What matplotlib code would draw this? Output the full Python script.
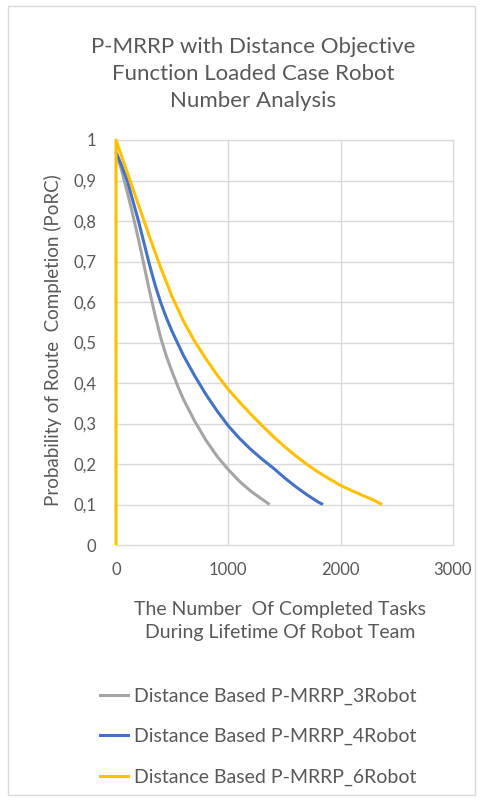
import matplotlib
matplotlib.use("Agg")
import matplotlib.pyplot as plt
from matplotlib.patches import Rectangle
from matplotlib.lines import Line2D
from matplotlib.ticker import FuncFormatter

plt.rcParams['font.family'] = ['Lato', 'DejaVu Sans']

title = "P-MRRP with Distance Objective\nFunction Loaded Case Robot\nNumber Analysis"
xlabel = "The Number  Of Completed Tasks\nDuring Lifetime Of Robot Team"
ylabel = "Probability of Route  Completion (PoRC)"

names = ["Distance Based P-MRRP_3Robot",
         "Distance Based P-MRRP_4Robot",
         "Distance Based P-MRRP_6Robot"]
colors = ["#A5A5A5", "#4472C4", "#FFC000"]

x3 = [0, 50, 100, 150, 200, 250, 300, 350, 400, 450, 500, 550, 600, 700, 800,
      900, 1000, 1100, 1200, 1300, 1368]
y3 = [0.97, 0.925, 0.872, 0.815, 0.755, 0.69, 0.625, 0.565, 0.51, 0.465, 0.427,
      0.392, 0.36, 0.306, 0.259, 0.219, 0.186, 0.157, 0.133, 0.113, 0.1]

x4 = [0, 50, 100, 150, 200, 250, 300, 350, 400, 450, 500, 600, 700, 800, 900,
      1000, 1100, 1200, 1300, 1400, 1500, 1600, 1700, 1800, 1843]
y4 = [0.97, 0.937, 0.9, 0.85, 0.8, 0.745, 0.69, 0.64, 0.597, 0.56, 0.527, 0.468,
      0.418, 0.372, 0.331, 0.294, 0.263, 0.236, 0.212, 0.19, 0.166, 0.144,
      0.124, 0.106, 0.1]

x6 = [0, 0, 100, 200, 300, 400, 500, 600, 700, 800, 900, 1000, 1100, 1200,
      1300, 1400, 1500, 1600, 1700, 1800, 1900, 2000, 2100, 2200, 2300, 2369]
y6 = [0, 1.0, 0.92, 0.84, 0.76, 0.683, 0.613, 0.553, 0.503, 0.46, 0.42, 0.384,
      0.353, 0.323, 0.295, 0.268, 0.243, 0.22, 0.199, 0.18, 0.163, 0.147,
      0.134, 0.122, 0.11, 0.1]

xticks = [0, 1000, 2000, 3000]
yticks = [0, 0.1, 0.2, 0.3, 0.4, 0.5, 0.6, 0.7, 0.8, 0.9, 1.0]

W, H = 483, 801
fig = plt.figure(figsize=(W / 100, H / 100), dpi=100)
fig.patch.set_facecolor("white")

# chart border
fig.add_artist(Rectangle((8 / W, 6 / H), (W - 16) / W, (H - 12) / H,
                         transform=fig.transFigure, fill=False,
                         edgecolor="#D9D9D9", lw=1))

ax = fig.add_axes([116 / W, 1 - 545 / H, (453 - 116) / W, (545 - 140) / H])
ax.set_xlim(0, 3000)
ax.set_ylim(0, 1)
for s in ax.spines.values():
    s.set_visible(False)
ax.set_xticks(xticks)
ax.set_yticks(yticks)
ax.grid(True, color="#D9D9D9", lw=1)
for gl in ax.get_xgridlines() + ax.get_ygridlines():
    gl.set_clip_on(False)
ax.set_axisbelow(True)
ax.tick_params(length=0, labelsize=12, labelcolor="#595959")
ax.tick_params(axis='x', pad=12)
ax.tick_params(axis='y', pad=14)
ax.yaxis.set_major_formatter(FuncFormatter(lambda v, p: ("%g" % round(v, 1)).replace(".", ",")))

series = [(x3, y3), (x4, y4), (x6, y6)]
for (xs, ys), c in zip(series, colors):
    ax.plot(xs, ys, color=c, lw=2.2, solid_capstyle="butt", solid_joinstyle="round",
            clip_on=False)

fig.text(253 / W, 1 - 74 / H, title, ha="center", va="center", fontsize=16,
         color="#595959", linespacing=1.42)

fig.text(280 / W, 1 - 621 / H, xlabel, ha="center", va="center", fontsize=14,
         color="#595959", linespacing=1.4)
fig.text(53 / W, 1 - 340 / H, ylabel, ha="center", va="center", rotation=90,
         fontsize=13.5, color="#595959")

# legend
handles = [Line2D([0], [0], color=c, lw=2.2) for c in colors]
leg = fig.legend(handles, names, loc="upper left", bbox_to_anchor=(82 / W, 1 - 670 / H),
                 frameon=False, fontsize=14, labelcolor="#595959",
                 handlelength=1.45, handletextpad=0.3, labelspacing=1.2)

fig.savefig("out.png", dpi=100, facecolor="white")
